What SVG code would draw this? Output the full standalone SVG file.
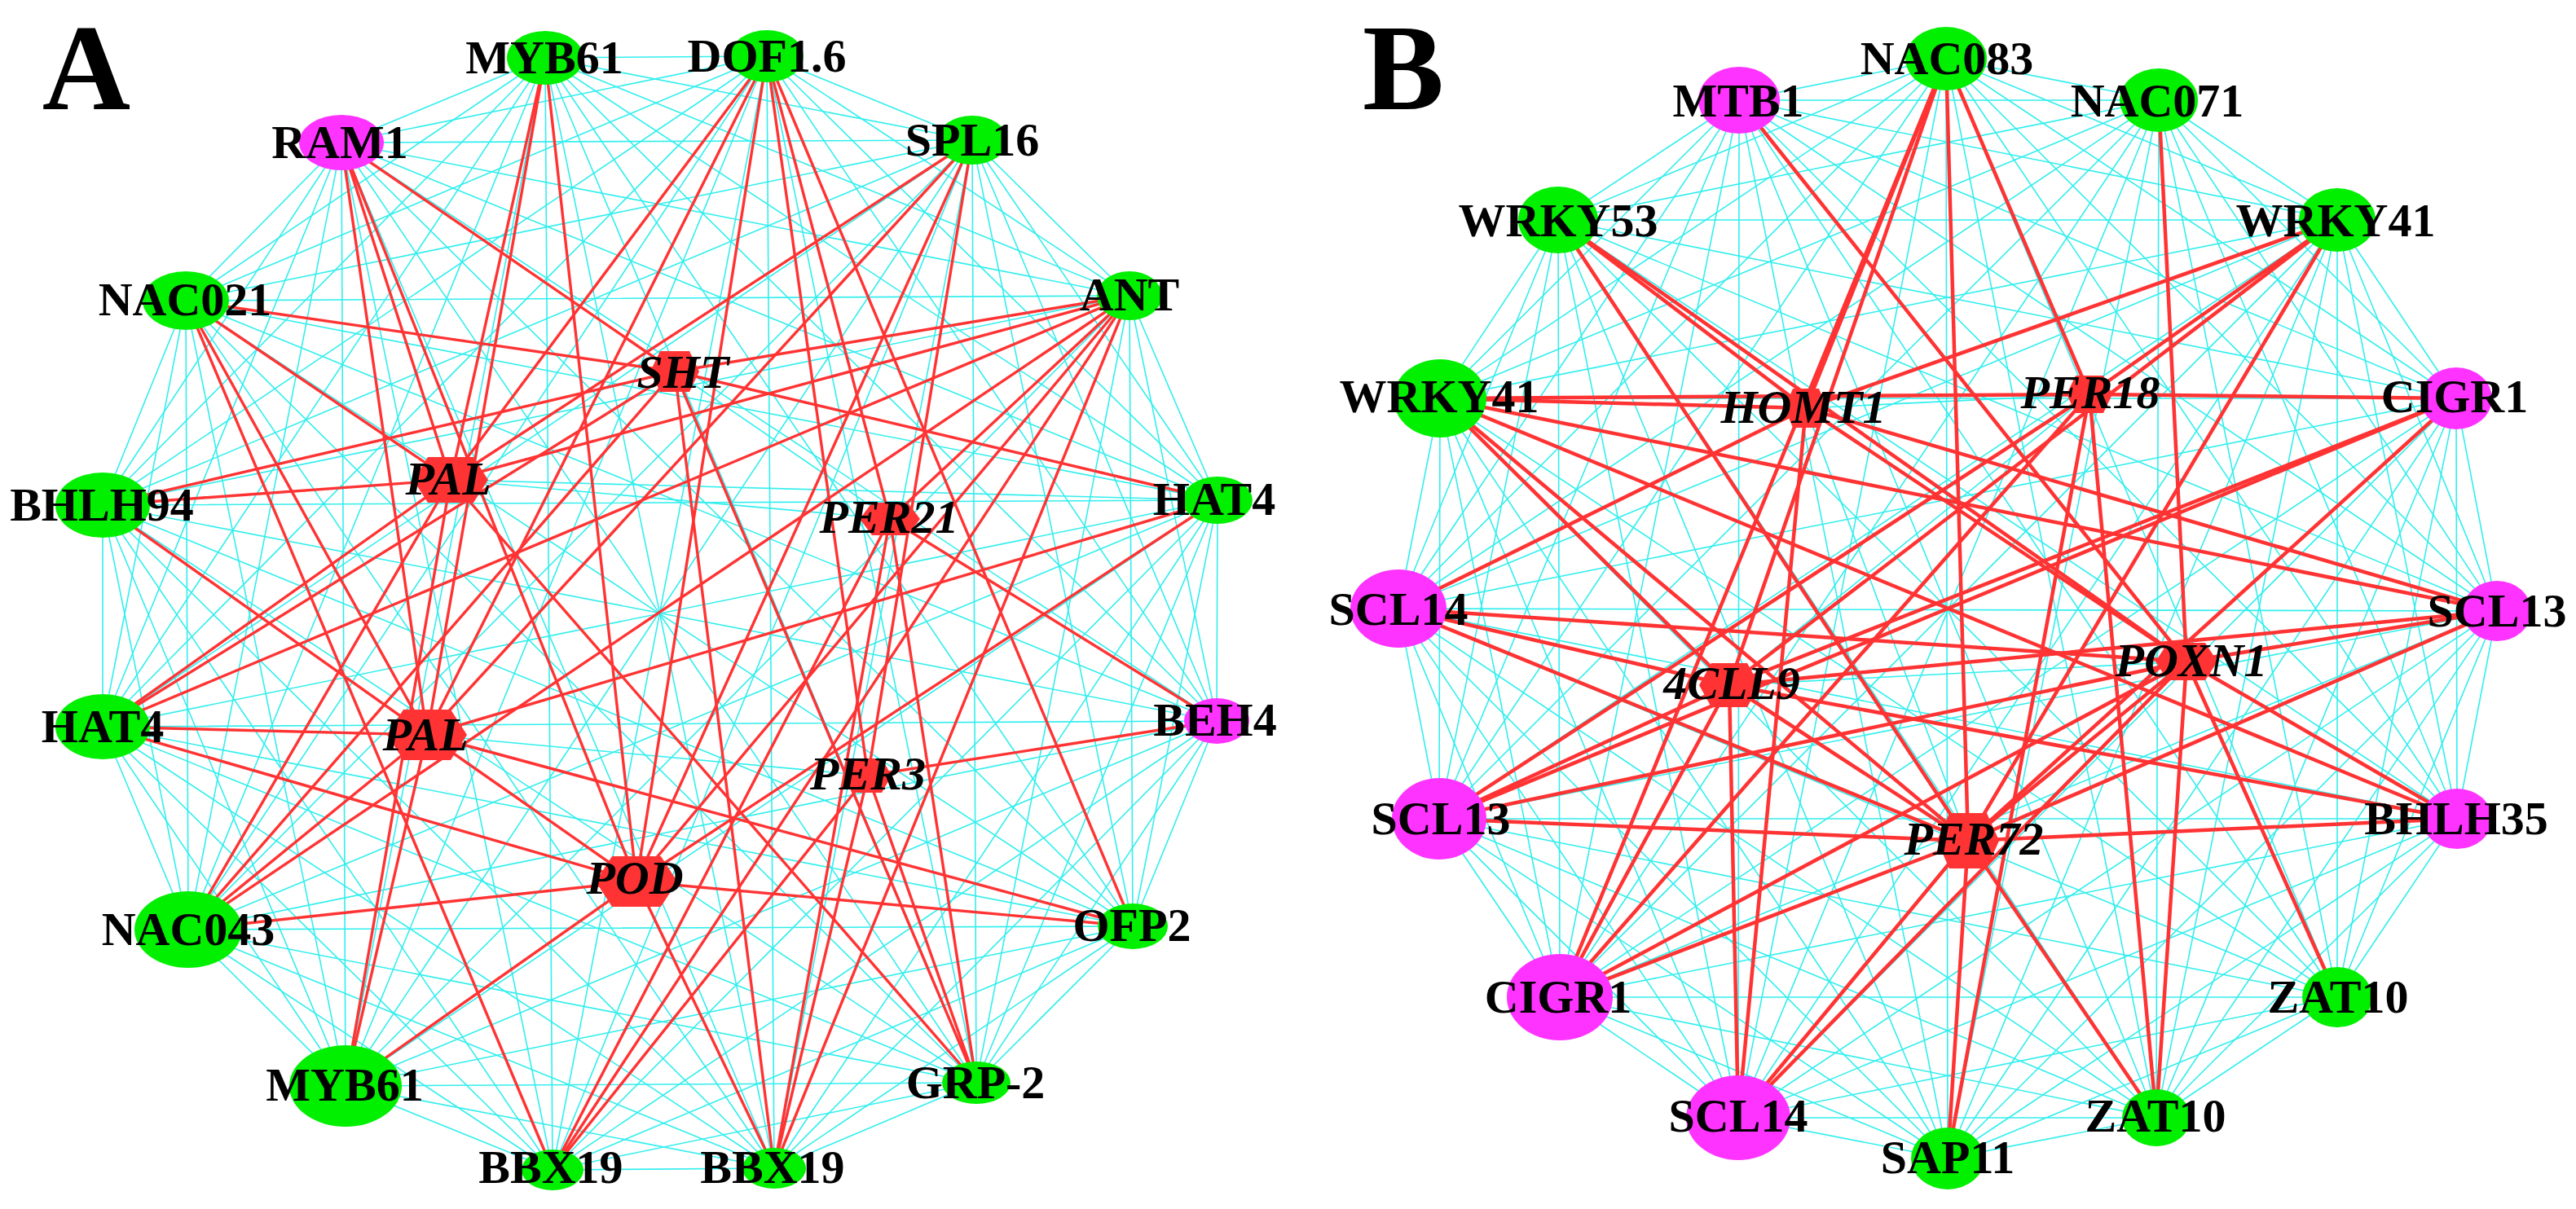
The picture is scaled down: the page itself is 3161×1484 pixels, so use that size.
<svg xmlns="http://www.w3.org/2000/svg" width="3161" height="1484" viewBox="0 0 3161 1484">
<defs>
<style>
.cy{stroke:#33eeee;stroke-width:1.6;fill:none}
.ra{stroke:#ff3333;stroke-width:3.4;fill:none}
.rb{stroke:#ff3333;stroke-width:4.5;fill:none}
.g{fill:#00f000}
.m{fill:#ff33ff}
.h{fill:#ff3333}
.lb{font-family:"Liberation Serif","Times New Roman",serif;font-weight:bold;font-size:58px;text-anchor:middle;fill:#000}
.it{font-style:italic}
.big{font-size:150px}
</style>
</defs>
<rect width="3161" height="1484" fill="#fff"/>
<g id="connectors">
<g id="cyan-A" class="cy">
<path d="M669 71L941 69M669 71L419 175M669 71L1193 172M669 71L228 369M669 71L1386 363M669 71L126 620M669 71L1494 614M669 71L126 892M669 71L1493 885M669 71L231 1141M669 71L1390 1137M669 71L424 1333M669 71L1198 1329M669 71L678 1436M669 71L950 1434"/>
<path d="M941 69L419 175M941 69L1193 172M941 69L228 369M941 69L1386 363M941 69L126 620M941 69L1494 614M941 69L126 892M941 69L1493 885M941 69L231 1141M941 69L1390 1137M941 69L424 1333M941 69L1198 1329M941 69L678 1436M941 69L950 1434"/>
<path d="M419 175L1193 172M419 175L228 369M419 175L1386 363M419 175L126 620M419 175L1494 614M419 175L126 892M419 175L1493 885M419 175L231 1141M419 175L1390 1137M419 175L424 1333M419 175L1198 1329M419 175L678 1436M419 175L950 1434"/>
<path d="M1193 172L228 369M1193 172L1386 363M1193 172L126 620M1193 172L1494 614M1193 172L126 892M1193 172L1493 885M1193 172L231 1141M1193 172L1390 1137M1193 172L424 1333M1193 172L1198 1329M1193 172L678 1436M1193 172L950 1434"/>
<path d="M228 369L1386 363M228 369L126 620M228 369L1494 614M228 369L126 892M228 369L1493 885M228 369L231 1141M228 369L1390 1137M228 369L424 1333M228 369L1198 1329M228 369L678 1436M228 369L950 1434"/>
<path d="M1386 363L126 620M1386 363L1494 614M1386 363L126 892M1386 363L1493 885M1386 363L231 1141M1386 363L1390 1137M1386 363L424 1333M1386 363L1198 1329M1386 363L678 1436M1386 363L950 1434"/>
<path d="M126 620L1494 614M126 620L126 892M126 620L1493 885M126 620L231 1141M126 620L1390 1137M126 620L424 1333M126 620L1198 1329M126 620L678 1436M126 620L950 1434"/>
<path d="M1494 614L126 892M1494 614L1493 885M1494 614L231 1141M1494 614L1390 1137M1494 614L424 1333M1494 614L1198 1329M1494 614L678 1436M1494 614L950 1434"/>
<path d="M126 892L1493 885M126 892L231 1141M126 892L1390 1137M126 892L424 1333M126 892L1198 1329M126 892L678 1436M126 892L950 1434"/>
<path d="M1493 885L231 1141M1493 885L1390 1137M1493 885L424 1333M1493 885L1198 1329M1493 885L678 1436M1493 885L950 1434"/>
<path d="M231 1141L1390 1137M231 1141L424 1333M231 1141L1198 1329M231 1141L678 1436M231 1141L950 1434"/>
<path d="M1390 1137L424 1333M1390 1137L1198 1329M1390 1137L678 1436M1390 1137L950 1434"/>
<path d="M424 1333L1198 1329M424 1333L678 1436M424 1333L950 1434M1198 1329L678 1436M1198 1329L950 1434M678 1436L950 1434"/>
<path d="M553 589L1092 637M553 589L1494 614M828 456L1092 637M524 902L1065 952"/>
</g>
<g id="cyan-B" class="cy">
<path d="M2134 123L2388 72M2134 123L2649 123M2134 123L1912 270M2134 123L2868 270M2134 123L1767 489M2134 123L3014 489M2134 123L1716 747M2134 123L3064 750M2134 123L1766 1005M2134 123L3015 1005M2134 123L1914 1224M2134 123L2868 1224M2134 123L2133 1372M2134 123L2646 1372M2134 123L2390 1422"/>
<path d="M2388 72L2649 123M2388 72L1912 270M2388 72L2868 270M2388 72L1767 489M2388 72L3014 489M2388 72L1716 747M2388 72L3064 750M2388 72L1766 1005M2388 72L3015 1005M2388 72L1914 1224M2388 72L2868 1224M2388 72L2133 1372M2388 72L2646 1372M2388 72L2390 1422"/>
<path d="M2649 123L1912 270M2649 123L2868 270M2649 123L1767 489M2649 123L3014 489M2649 123L1716 747M2649 123L3064 750M2649 123L1766 1005M2649 123L3015 1005M2649 123L1914 1224M2649 123L2868 1224M2649 123L2133 1372M2649 123L2646 1372M2649 123L2390 1422"/>
<path d="M1912 270L2868 270M1912 270L1767 489M1912 270L3014 489M1912 270L1716 747M1912 270L3064 750M1912 270L1766 1005M1912 270L3015 1005M1912 270L1914 1224M1912 270L2868 1224M1912 270L2133 1372M1912 270L2646 1372M1912 270L2390 1422"/>
<path d="M2868 270L1767 489M2868 270L3014 489M2868 270L1716 747M2868 270L3064 750M2868 270L1766 1005M2868 270L3015 1005M2868 270L1914 1224M2868 270L2868 1224M2868 270L2133 1372M2868 270L2646 1372M2868 270L2390 1422"/>
<path d="M1767 489L3014 489M1767 489L1716 747M1767 489L3064 750M1767 489L1766 1005M1767 489L3015 1005M1767 489L1914 1224M1767 489L2868 1224M1767 489L2133 1372M1767 489L2646 1372M1767 489L2390 1422"/>
<path d="M3014 489L1716 747M3014 489L3064 750M3014 489L1766 1005M3014 489L3015 1005M3014 489L1914 1224M3014 489L2868 1224M3014 489L2133 1372M3014 489L2646 1372M3014 489L2390 1422"/>
<path d="M1716 747L3064 750M1716 747L1766 1005M1716 747L3015 1005M1716 747L1914 1224M1716 747L2868 1224M1716 747L2133 1372M1716 747L2646 1372M1716 747L2390 1422"/>
<path d="M3064 750L1766 1005M3064 750L3015 1005M3064 750L1914 1224M3064 750L2868 1224M3064 750L2133 1372M3064 750L2646 1372M3064 750L2390 1422"/>
<path d="M1766 1005L3015 1005M1766 1005L1914 1224M1766 1005L2868 1224M1766 1005L2133 1372M1766 1005L2646 1372M1766 1005L2390 1422"/>
<path d="M3015 1005L1914 1224M3015 1005L2868 1224M3015 1005L2133 1372M3015 1005L2646 1372M3015 1005L2390 1422"/>
<path d="M1914 1224L2868 1224M1914 1224L2133 1372M1914 1224L2646 1372M1914 1224L2390 1422M2868 1224L2133 1372M2868 1224L2646 1372M2868 1224L2390 1422M2133 1372L2646 1372M2133 1372L2390 1422M2646 1372L2390 1422"/>
<path d="M2216 501L2564 484M2122 841L2683 812M2216 501L2415 1032M2564 484L2122 841"/>
</g>
<g id="red-A" class="ra">
<path d="M828 456L228 369M828 456L1386 363M828 456L1494 614M828 456L126 620M828 456L419 175M828 456L126 892M828 456L231 1141M828 456L950 1434M828 456L1198 1329"/>
<path d="M553 589L669 71M553 589L941 69M553 589L1193 172M553 589L419 175M553 589L228 369M553 589L126 620M553 589L1386 363M553 589L126 892M553 589L231 1141M553 589L424 1333M553 589L1198 1329"/>
<path d="M524 902L126 892M524 902L126 620M524 902L419 175M524 902L669 71M524 902L941 69M524 902L1193 172M524 902L1494 614M524 902L231 1141M524 902L424 1333M524 902L1390 1137M524 902L781 1082M524 902L228 369"/>
<path d="M1092 637L941 69M1092 637L1386 363M1092 637L1493 885M1092 637L678 1436M1092 637L950 1434M1092 637L1198 1329"/>
<path d="M1065 952L1493 885M1065 952L941 69M1065 952L678 1436M1065 952L950 1434M1065 952L1198 1329M1065 952L1193 172"/>
<path d="M781 1082L126 892M781 1082L231 1141M781 1082L1390 1137M781 1082L424 1333M781 1082L950 1434M781 1082L669 71M781 1082L419 175M781 1082L941 69M781 1082L1386 363M781 1082L1494 614M781 1082L1193 172"/>
<path d="M1386 363L231 1141M1386 363L678 1436M1386 363L950 1434M1386 363L126 892M941 69L1390 1137M228 369L678 1436"/>
</g>
<g id="red-B" class="rb">
<path d="M2216 501L1912 270M2216 501L2388 72M2216 501L2868 270M2216 501L1767 489M2216 501L3064 750M2216 501L2133 1372M2216 501L1716 747M2216 501L2683 812"/>
<path d="M2564 484L2388 72M2564 484L2868 270M2564 484L3014 489M2564 484L1767 489M2564 484L2390 1422M2564 484L1766 1005M2564 484L2646 1372M2564 484L1914 1224"/>
<path d="M2122 841L2388 72M2122 841L2868 270M2122 841L3014 489M2122 841L3064 750M2122 841L3015 1005M2122 841L2133 1372M2122 841L1914 1224M2122 841L1766 1005M2122 841L1716 747M2122 841L1767 489M2122 841L2415 1032"/>
<path d="M2683 812L1912 270M2683 812L2134 123M2683 812L2649 123M2683 812L3064 750M2683 812L3015 1005M2683 812L2868 1224M2683 812L2646 1372M2683 812L2133 1372M2683 812L1914 1224M2683 812L1766 1005M2683 812L1716 747M2683 812L2415 1032"/>
<path d="M2415 1032L1912 270M2415 1032L2388 72M2415 1032L2868 270M2415 1032L3014 489M2415 1032L3064 750M2415 1032L3015 1005M2415 1032L2646 1372M2415 1032L2390 1422M2415 1032L2133 1372M2415 1032L1914 1224M2415 1032L1766 1005M2415 1032L1716 747M2415 1032L1767 489"/>
<path d="M2388 72L1914 1224M1767 489L3015 1005M1767 489L3064 750M1766 1005L3014 489"/>
</g>
</g>
<g id="panel-A">
<text class="lb big" x="106" y="134">A</text>
<g id="a-MYB61-top"><ellipse class="g" cx="669" cy="71" rx="47" ry="33"/><text class="lb" x="668" y="90">MYB61</text></g>
<g id="a-DOF1-6"><ellipse class="g" cx="941" cy="69" rx="45" ry="32"/><text class="lb" x="941" y="88">DOF1.6</text></g>
<g id="a-RAM1"><ellipse class="m" cx="419" cy="175" rx="52" ry="34"/><text class="lb" x="417" y="194">RAM1</text></g>
<g id="a-SPL16"><ellipse class="g" cx="1193" cy="172" rx="43" ry="30"/><text class="lb" x="1193" y="191">SPL16</text></g>
<g id="a-NAC021"><ellipse class="g" cx="228" cy="369" rx="53" ry="36"/><text class="lb" x="227" y="387">NAC021</text></g>
<g id="a-ANT"><ellipse class="g" cx="1386" cy="363" rx="40" ry="30"/><text class="lb" x="1386" y="381">ANT</text></g>
<g id="a-BHLH94"><ellipse class="g" cx="126" cy="620" rx="58" ry="40"/><text class="lb" x="125" y="639">BHLH94</text></g>
<g id="a-HAT4-right"><ellipse class="g" cx="1494" cy="614" rx="43" ry="29"/><text class="lb" x="1490" y="632">HAT4</text></g>
<g id="a-HAT4-left"><ellipse class="g" cx="126" cy="892" rx="58" ry="40"/><text class="lb" x="126" y="911">HAT4</text></g>
<g id="a-BEH4"><ellipse class="m" cx="1493" cy="885" rx="40" ry="28"/><text class="lb" x="1491" y="903">BEH4</text></g>
<g id="a-NAC043"><ellipse class="g" cx="231" cy="1141" rx="66" ry="47"/><text class="lb" x="231" y="1160">NAC043</text></g>
<g id="a-OFP2"><ellipse class="g" cx="1390" cy="1137" rx="43" ry="28"/><text class="lb" x="1389" y="1155">OFP2</text></g>
<g id="a-MYB61-bottom"><ellipse class="g" cx="424" cy="1333" rx="69" ry="50"/><text class="lb" x="423" y="1351">MYB61</text></g>
<g id="a-GRP-2"><ellipse class="g" cx="1198" cy="1329" rx="42" ry="26"/><text class="lb" x="1197" y="1348">GRP-2</text></g>
<g id="a-BBX19-left"><ellipse class="g" cx="678" cy="1436" rx="38" ry="25"/><text class="lb" x="676" y="1452">BBX19</text></g>
<g id="a-BBX19-right"><ellipse class="g" cx="950" cy="1434" rx="39" ry="25"/><text class="lb" x="948" y="1452">BBX19</text></g>
<g id="a-SHT"><polygon class="h" points="798,456 810,431 846,431 858,456 846,481 810,481"/><text class="lb it" x="838" y="476">SHT</text></g>
<g id="a-PAL-1"><polygon class="h" points="507,589 525,561 581,561 599,589 581,617 525,617"/><text class="lb it" x="550" y="607">PAL</text></g>
<g id="a-PER21"><polygon class="h" points="1055,637 1070,617 1114,617 1129,637 1114,657 1070,657"/><text class="lb it" x="1091" y="654">PER21</text></g>
<g id="a-PAL-2"><polygon class="h" points="475,902 495,871 553,871 573,902 553,933 495,933"/><text class="lb it" x="522" y="921">PAL</text></g>
<g id="a-PER3"><polygon class="h" points="1036,952 1048,931 1082,931 1094,952 1082,973 1048,973"/><text class="lb it" x="1065" y="969">PER3</text></g>
<g id="a-POD"><polygon class="h" points="731,1082 751,1051 811,1051 831,1082 811,1113 751,1113"/><text class="lb it" x="779" y="1097">POD</text></g>
</g>
<g id="panel-B">
<text class="lb big" x="1722" y="134">B</text>
<g id="b-MTB1"><ellipse class="m" cx="2134" cy="123" rx="50" ry="41"/><text class="lb" x="2133" y="143">MTB1</text></g>
<g id="b-NAC083"><ellipse class="g" cx="2388" cy="72" rx="50" ry="39"/><text class="lb" x="2389" y="91">NAC083</text></g>
<g id="b-NAC071"><ellipse class="g" cx="2649" cy="123" rx="48" ry="39"/><text class="lb" x="2647" y="143">NAC071</text></g>
<g id="b-WRKY53"><ellipse class="g" cx="1912" cy="270" rx="49" ry="41"/><text class="lb" x="1912" y="290">WRKY53</text></g>
<g id="b-WRKY41-right"><ellipse class="g" cx="2868" cy="270" rx="47" ry="39"/><text class="lb" x="2866" y="290">WRKY41</text></g>
<g id="b-WRKY41-left"><ellipse class="g" cx="1767" cy="489" rx="57" ry="48"/><text class="lb" x="1766" y="506">WRKY41</text></g>
<g id="b-CIGR1-right"><ellipse class="m" cx="3014" cy="489" rx="44" ry="38"/><text class="lb" x="3012" y="506">CIGR1</text></g>
<g id="b-SCL14-upper"><ellipse class="m" cx="1716" cy="747" rx="59" ry="48"/><text class="lb" x="1716" y="767">SCL14</text></g>
<g id="b-SCL13-right"><ellipse class="m" cx="3064" cy="750" rx="42" ry="37"/><text class="lb" x="3064" y="769">SCL13</text></g>
<g id="b-SCL13-left"><ellipse class="m" cx="1766" cy="1005" rx="58" ry="50"/><text class="lb" x="1768" y="1024">SCL13</text></g>
<g id="b-BHLH35"><ellipse class="m" cx="3015" cy="1005" rx="43" ry="37"/><text class="lb" x="3014" y="1024">BHLH35</text></g>
<g id="b-CIGR1-left"><ellipse class="m" cx="1914" cy="1224" rx="65" ry="53"/><text class="lb" x="1912" y="1243">CIGR1</text></g>
<g id="b-ZAT10-right"><ellipse class="g" cx="2868" cy="1224" rx="43" ry="37"/><text class="lb" x="2869" y="1243">ZAT10</text></g>
<g id="b-SCL14-lower"><ellipse class="m" cx="2133" cy="1372" rx="64" ry="52"/><text class="lb" x="2133" y="1389">SCL14</text></g>
<g id="b-ZAT10-lower"><ellipse class="g" cx="2646" cy="1372" rx="42" ry="35"/><text class="lb" x="2645" y="1389">ZAT10</text></g>
<g id="b-SAP11"><ellipse class="g" cx="2390" cy="1422" rx="45" ry="38"/><text class="lb" x="2390" y="1440">SAP11</text></g>
<g id="b-HOMT1"><polygon class="h" points="2190,501 2200,477 2232,477 2242,501 2232,525 2200,525"/><text class="lb it" x="2213" y="519">HOMT1</text></g>
<g id="b-PER18"><polygon class="h" points="2536,484 2547,461 2581,461 2592,484 2581,507 2547,507"/><text class="lb it" x="2565" y="501">PER18</text></g>
<g id="b-4CLL9"><polygon class="h" points="2085,841 2100,814 2144,814 2159,841 2144,868 2100,868"/><text class="lb it" x="2125" y="858">4CLL9</text></g>
<g id="b-POXN1"><polygon class="h" points="2645,812 2660,789 2706,789 2721,812 2706,835 2660,835"/><text class="lb it" x="2689" y="830">POXN1</text></g>
<g id="b-PER72"><polygon class="h" points="2377,1032 2392,998 2438,998 2453,1032 2438,1066 2392,1066"/><text class="lb it" x="2422" y="1049">PER72</text></g>
</g>
</svg>
